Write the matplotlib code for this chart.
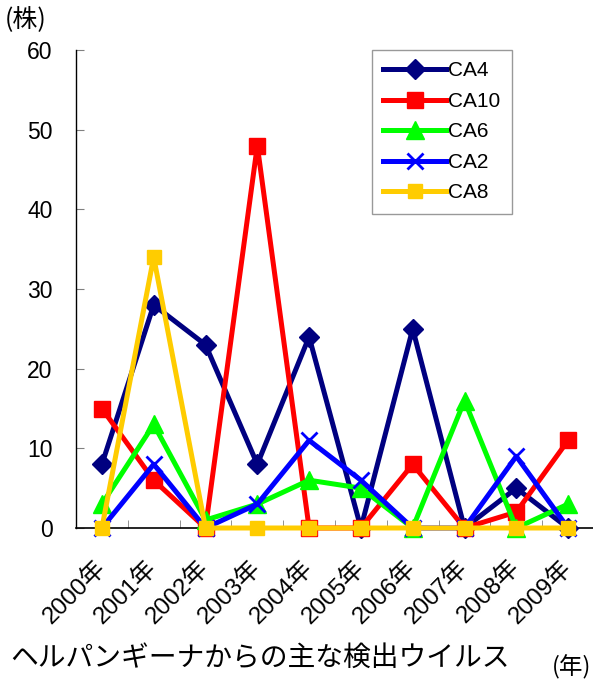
import matplotlib
matplotlib.use("Agg")
import matplotlib.pyplot as plt
import numpy as np

plt.rcParams['font.family'] = ['Liberation Sans', 'Noto Sans CJK JP', 'DejaVu Sans']
JP = ['Noto Sans CJK JP', 'DejaVu Sans']

years = ["2000年", "2001年", "2002年", "2003年", "2004年", "2005年", "2006年", "2007年", "2008年", "2009年"]
ca4 = [8, 28, 23, 8, 24, 0, 25, 0, 5, 0]
ca10 = [15, 6, 0, 48, 0, 0, 8, 0, 2, 11]
ca6 = [3, 13, 1, 3, 6, 5, 0, 16, 0, 3]
ca2 = [0, 8, 0, 3, 11, 6, 0, 0, 9, 0]
ca8 = [0, 34, 0, 0, 0, 0, 0, 0, 0, 0]
yticks = [0, 10, 20, 30, 40, 50, 60]

fig = plt.figure(figsize=(5.93, 6.80), dpi=100)
ax = fig.add_axes([76/593, 1-528/680, 518/593, 478/680])
x = np.arange(len(years))

series = [
    ("CA4", ca4, "#000080", "D", 10),
    ("CA10", ca10, "#FF0000", "s", 11),
    ("CA6", ca6, "#00FF00", "^", 13),
    ("CA2", ca2, "#0000FF", "x", 11),
    ("CA8", ca8, "#FFCC00", "s", 10),
]
for i, (name, vals, col, mk, ms) in enumerate(series):
    kw = dict(markeredgewidth=2) if mk == "x" else dict(markeredgecolor=col)
    ax.plot(x, vals, color=col, lw=3.6, marker=mk, markersize=ms, label=name,
            clip_on=False, zorder=3 + i, **kw)

ax.set_xlim(-0.5, 9.5)
ax.set_ylim(0, 60)
ax.set_yticks(yticks)
ax.set_yticklabels([str(v) for v in yticks], fontsize=16.5)
ax.set_xticks(x)
ax.set_xticklabels(years, rotation=45, ha='right', va='center', rotation_mode='anchor', fontsize=17.5)
ax.tick_params(axis='x', length=0, pad=26)
ax.set_xticks(np.arange(-0.5, 10, 1), minor=True)
ax.tick_params(axis='x', which='minor', direction='in', length=6, color='#808080')
ax.tick_params(axis='y', direction='in', length=5.5, color='#808080', pad=17)
for s in ['top', 'right']:
    ax.spines[s].set_visible(False)
ax.spines['left'].set_linewidth(1.0)
ax.spines['bottom'].set_linewidth(1.2)

leg = ax.legend(loc='upper left', bbox_to_anchor=((372-76)/518, 1.0), fontsize=15,
                frameon=True, fancybox=False, edgecolor='#808080', handlelength=3.0,
                handletextpad=0.1, labelspacing=0.55, borderpad=0.55, borderaxespad=0)
leg.get_frame().set_linewidth(1.0)
leg.set_zorder(10)

fig.text(5/593, 1-20/680, "(株)", fontsize=18, va='center', ha='left', family=JP)
fig.text(591/593, 1-667/680, "(年)", fontsize=17, va='center', ha='right', family=JP)
fig.text(10/593, 1-658/680, "ヘルパンギーナからの主な検出ウイルス", fontsize=20, va='center', ha='left', family=JP)

fig.savefig("out.png", dpi=100)
